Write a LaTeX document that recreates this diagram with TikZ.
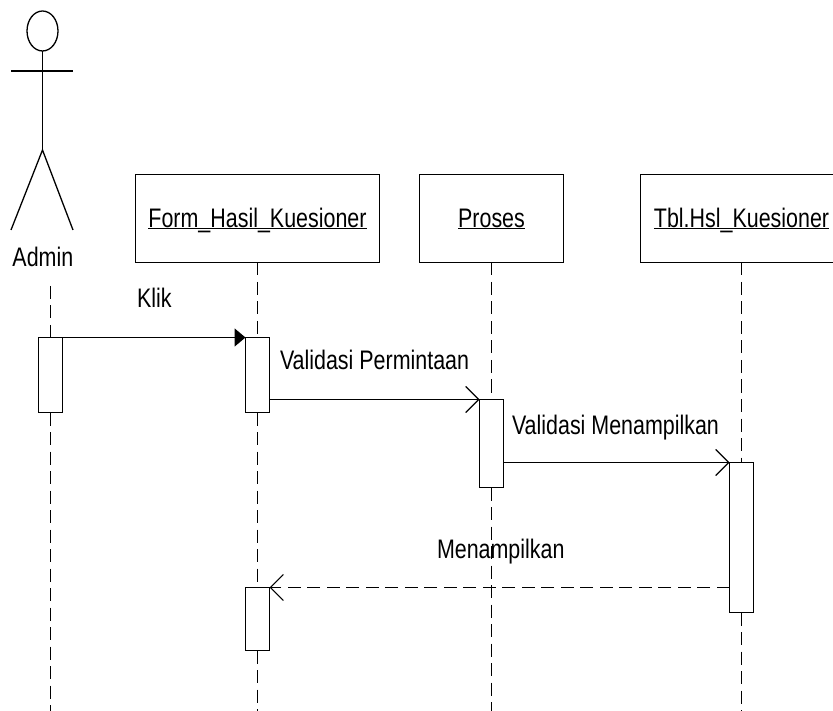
\documentclass[tikz,border=0pt]{standalone}
\usepackage{fontspec}
\setmainfont[FakeStretch=0.8]{Liberation Sans}
\usetikzlibrary{arrows.meta,shapes.geometric}
\newcommand\ulname[1]{\setbox0\hbox{#1}\rlap{#1}\rlap{\rule[-1.4pt]{\wd0}{1.3pt}}\kern\wd0\relax}
\tikzset{
  x=1pt,y=-1pt,
  every node/.style={inner sep=0pt,outer sep=0pt},
  lbl/.style={anchor=base west,font=\fontsize{26.8pt}{30pt}\selectfont},
  objbox/.style={draw,line width=1.5pt,minimum height=88pt,text height=19pt,text depth=0pt,font=\fontsize{26.8pt}{30pt}\selectfont},
  bar/.style={draw,fill=white,line width=1.5pt,minimum width=24pt},
  life/.style={line width=1.3pt,dash pattern=on 13pt off 6.5pt},
  limb/.style={line width=1.3pt},
  msg/.style={line width=1.4pt,-{Straight Barb[length=13pt,width=26pt,line width=1.2pt]}},
  call/.style={line width=1.6pt,-{Triangle[length=11pt,width=18pt]}},
  ret/.style={line width=1.3pt,dash pattern=on 13pt off 6.5pt,-{Straight Barb[length=13pt,width=26pt,line width=1.2pt,sep=0pt]}},
}
\begin{document}
\begin{tikzpicture}
\useasboundingbox (0,0) rectangle (833,711);
% actor
\node[draw,line width=1.3pt,ellipse,minimum width=31pt,minimum height=40pt] (head) at (42.5,31) {};
\coordinate (hip) at (42.5,150);
\coordinate (armL) at (11,71);
\coordinate (armR) at (73,71);
\coordinate (footL) at (11,230);
\coordinate (footR) at (73,230);
\draw[limb] (head.south) -- (hip);
\draw[limb] (armL) -- (armR);
\draw[limb] (footL) -- (hip) -- (footR);
\node[lbl] (admin) at (12.5,267) {Admin};
% objects
\node[objbox,minimum width=244pt] (form) at (257.5,218.5) {\ulname{Form\_Hasil\_Kuesioner}};
\node[objbox,minimum width=144pt] (proses) at (491.5,218.5) {\ulname{Proses}};
\node[objbox,minimum width=202pt] (tbl) at (741.5,218.5) {\ulname{Tbl.Hsl\_Kuesioner}};
% lifeline anchors
\coordinate (adminTop) at (50.5,286);
\coordinate (adminEnd) at (50.5,711);
\coordinate (formEnd) at (257.5,711);
\coordinate (prosesEnd) at (491.5,711);
\coordinate (tblEnd) at (741.5,711);
% activation bars
\node[bar,minimum height=75pt] (a1) at (50.5,375) {};
\node[bar,minimum height=75pt] (f1) at (257.5,375) {};
\node[bar,minimum height=63pt] (f2) at (257.5,619) {};
\node[bar,minimum height=88pt] (p1) at (491.5,443.5) {};
\node[bar,minimum height=150pt] (t1) at (741.5,537.5) {};
% lifelines
\draw[life] (adminTop) -- (a1.north);
\draw[life] (a1.south) -- (adminEnd);
\draw[life] (form.south) -- (f1.north);
\draw[life] (f1.south) -- (f2.north);
\draw[life] (f2.south) -- (formEnd);
\draw[life] (proses.south) -- (p1.north);
\draw[life] (p1.south) -- (prosesEnd);
\draw[life] (tbl.south) -- (t1.north);
\draw[life] (t1.south) -- (tblEnd);
% messages
\draw[call] (a1.north east) -- (f1.north west);
\draw[msg] (f1.east |- p1.north) -- (p1.north west);
\draw[msg] (p1.east |- t1.north) -- (t1.north west);
\draw[ret] (t1.west |- f2.north) -- (f2.north east);
% labels
\node[lbl] (klik) at (137,308) {Klik};
\node[lbl] (vp) at (280,370) {Validasi Permintaan};
\node[lbl] (vm) at (512,434) {Validasi Menampilkan};
\node[lbl] (men) at (437,558) {Menampilkan};
\end{tikzpicture}
\end{document}
